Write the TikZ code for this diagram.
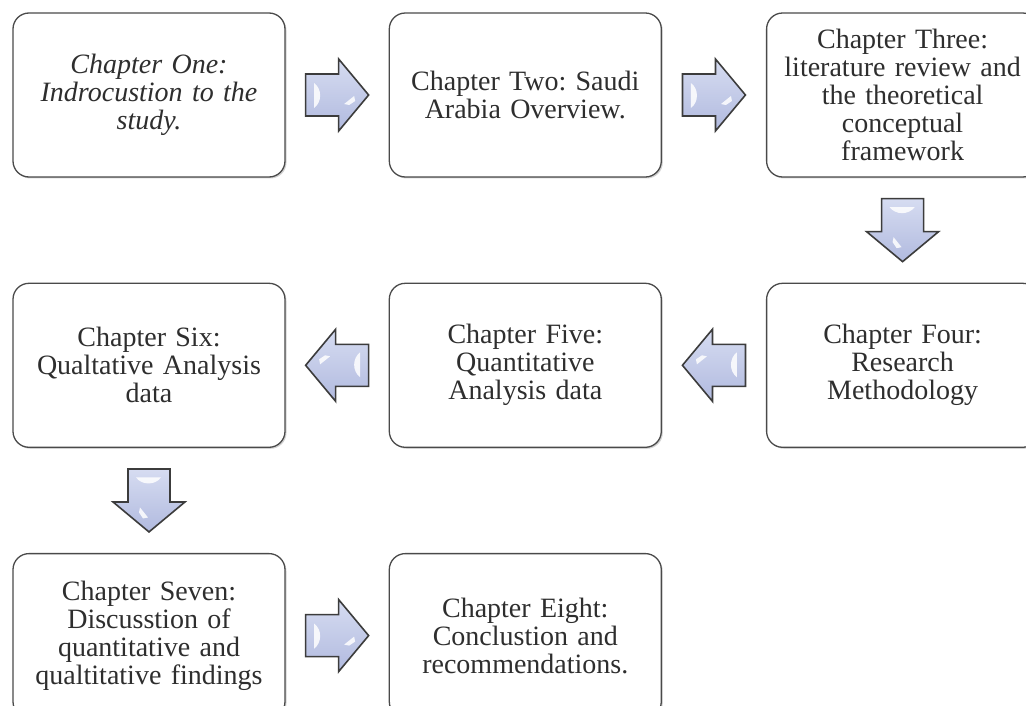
\documentclass[tikz,border=0pt]{standalone}
\usepackage{fontspec}
\setmainfont{Liberation Serif}
\usetikzlibrary{positioning,calc,shadows}

\definecolor{boxline}{HTML}{4A4A4A}
\definecolor{chaptext}{HTML}{2E2E2E}
\definecolor{arrowtop}{HTML}{D6DCF1}
\definecolor{arrowbot}{HTML}{B1BADF}
\definecolor{arrowline}{HTML}{3C3C3C}

% block arrow between two chapters: #1 centre, #2 direction
\newcommand{\chaparrow}[2]{%
  \begin{scope}[shift={(#1)},rotate=#2]
    \draw[blockarrow] (-31.5,-21) -- (1.5,-21) -- (1.5,-36) -- (31.5,0)
      -- (1.5,36) -- (1.5,21) -- (-31.5,21) -- cycle;
    \fill[white,opacity=0.85] (-23,-12) -- (-23,13)
      .. controls (-15,7) and (-15,-6) .. cycle;
    \fill[white,opacity=0.85] (7,9) -- (17,1) -- (18,6) -- (12,10) -- cycle;
  \end{scope}}

\begin{document}
\frenchspacing
\begin{tikzpicture}[x=1pt,y=-1pt,
    chapbox/.style={draw=boxline, line width=1.3pt, rounded corners=16pt,
      fill=white, minimum width=272pt, minimum height=164pt,
      text width=262pt, align=center, inner sep=0pt, text=chaptext,
      font=\fontsize{28}{28}\selectfont,
      drop shadow={shadow xshift=1.5pt, shadow yshift=-1.5pt, opacity=0.35}},
    blockarrow/.style={draw=arrowline, line width=1.6pt, line join=miter,
      top color=arrowtop, bottom color=arrowbot}]

    % Frame
    \useasboundingbox (0,0) rectangle (1026,706);
    \fill[white] (0,0) rectangle (1026,706);
    \clip (0,0) rectangle (1026,706);

    % Chapters
    \node[chapbox] (c1) at (149,95) {\itshape Chapter One:\\ Indrocustion to the\\ study.};
    \node[chapbox, right=103pt of c1] (c2) {Chapter Two: Saudi\\ Arabia Overview.};
    \node[chapbox, right=104pt of c2] (c3) {Chapter Three:\\ literature review and\\ the theoretical\\ conceptual\\ framework};
    \node[chapbox, below=105pt of c3] (c4) {Chapter Four:\\ Research\\ Methodology};
    \node[chapbox, left=104pt of c4] (c5) {Chapter Five:\\ Quantitative\\ Analysis data};
    \node[chapbox, left=103pt of c5] (c6) {Chapter Six:\\ Qualtative Analysis\\ data};
    \node[chapbox, below=105pt of c6] (c7) {Chapter Seven:\\ Discusstion of\\ quantitative and\\ qualtitative findings};
    \node[chapbox, right=103pt of c7] (c8) {Chapter Eight:\\ Conclustion and\\ recommendations.};

    % Arrows
    \coordinate (a12) at ($(c1.east)!0.5!(c2.west)$);
    \coordinate (a23) at ($(c2.east)!0.5!(c3.west)$);
    \coordinate (a34) at ($(c3.south)!0.5!(c4.north)$);
    \coordinate (a45) at ($(c4.west)!0.5!(c5.east)$);
    \coordinate (a56) at ($(c5.west)!0.5!(c6.east)$);
    \coordinate (a67) at ($(c6.south)!0.5!(c7.north)$);
    \coordinate (a78) at ($(c7.east)!0.5!(c8.west)$);

    \chaparrow{a12}{0}
    \chaparrow{a23}{0}
    \chaparrow{a34}{-90}
    \chaparrow{a45}{180}
    \chaparrow{a56}{180}
    \chaparrow{a67}{-90}
    \chaparrow{a78}{0}
\end{tikzpicture}
\end{document}
